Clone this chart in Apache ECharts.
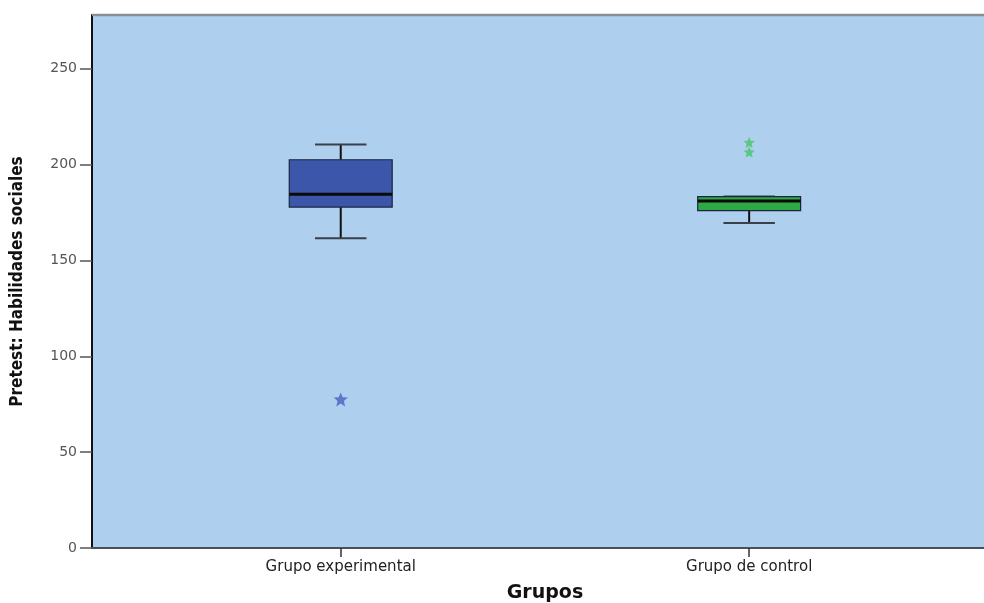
<!DOCTYPE html>
<html>
<head>
<meta charset="utf-8">
<script src="https://cdn.jsdelivr.net/npm/echarts@6/dist/echarts.min.js"></script>
<style>
  html, body { margin: 0; padding: 0; background: #ffffff; }
  #chart { width: 984px; height: 603px; }
</style>
</head>
<body>
<div id="chart"></div>
<script>
// ---- data ----
const categories = ['Grupo experimental', 'Grupo de control'];
const categoryPositions = [1, 2];
const whiskerLow = [161.5, 169.5];
const quartile1 = [177.8, 176.0];
const medians = [184.5, 181.0];
const quartile3 = [202.5, 183.3];
const whiskerHigh = [210.5, 183.3];
const outliersExperimental = [77.5];
const outliersControl = [211.5, 206.5];
const yTicks = [0, 50, 100, 150, 200, 250];

const boxColors = ['#3c56a9', '#2ea844'];
const starColors = ['#4a60c0', '#46c466'];

const boxData = categories.map((c, i) => [
  categoryPositions[i], whiskerLow[i], quartile1[i], medians[i], quartile3[i], whiskerHigh[i], i
]);
const starPath = 'path://M50,0 L64,32 L98,35 L72,58 L80,95 L50,76 L20,95 L28,58 L2,35 L36,32 Z';

const chart = echarts.init(document.getElementById('chart'), null, { renderer: 'canvas' });

chart.setOption({
  animation: false,
  backgroundColor: '#ffffff',
  grid: {
    left: 92, top: 15, right: 0, bottom: 55,
    containLabel: false, outerBoundsMode: 'none',
    show: true, backgroundColor: '#aecfee', borderWidth: 0
  },
  graphic: [
    { type: 'line', shape: { x1: 92, y1: 15, x2: 984, y2: 15 }, style: { stroke: '#8a8f96', lineWidth: 2.5 }, z: 10 }
  ],
  xAxis: {
    type: 'value',
    min: 0.391,
    max: 2.575,
    name: 'Grupos',
    nameLocation: 'middle',
    nameGap: 36,
    nameTextStyle: { fontFamily: 'DejaVu Sans', fontWeight: 'bold', fontSize: 19, color: '#111', padding: [0, 0, 0, 14] },
    splitLine: { show: false },
    axisLine: { show: true, onZero: false, lineStyle: { color: '#4a5058', width: 2 } },
    axisTick: { show: true, customValues: categoryPositions, length: 9, lineStyle: { color: '#333', width: 1.5 } },
    axisLabel: {
      customValues: categoryPositions,
      formatter: v => categories[Math.round(v) - 1] || '',
      fontFamily: 'DejaVu Sans', fontSize: 15, color: '#222', margin: 12
    }
  },
  yAxis: {
    type: 'value',
    min: 0,
    max: 278,
    name: 'Pretest: Habilidades sociales',
    nameLocation: 'middle',
    nameGap: 66,
    nameRotate: 90,
    nameTextStyle: { fontFamily: 'DejaVu Sans Condensed, DejaVu Sans', fontWeight: 'bold', fontSize: 17, color: '#111' },
    splitLine: { show: false },
    axisLine: { show: true, lineStyle: { color: '#111', width: 2 } },
    axisTick: { show: true, customValues: yTicks, length: 12, lineStyle: { color: '#555', width: 1.5 } },
    axisLabel: { customValues: yTicks, fontFamily: 'DejaVu Sans', fontSize: 14, color: '#555555', margin: 15 }
  },
  series: [
    {
      type: 'custom',
      data: boxData,
      encode: { x: 0, y: [1, 2, 3, 4, 5] },
      z: 5,
      renderItem: function (params, api) {
        const x = api.value(0);
        const unit = api.size([1, 0])[0];
        const half = unit * 0.126;
        const capHalf = unit * 0.063;
        const pLow = api.coord([x, api.value(1)]);
        const pQ1 = api.coord([x, api.value(2)]);
        const pMed = api.coord([x, api.value(3)]);
        const pQ3 = api.coord([x, api.value(4)]);
        const pHigh = api.coord([x, api.value(5)]);
        const cx = pMed[0];
        const color = boxColors[api.value(6)];
        return {
          type: 'group',
          children: [
            { type: 'line', shape: { x1: cx, y1: pQ3[1], x2: cx, y2: pHigh[1] }, style: { stroke: '#111', lineWidth: 2 } },
            { type: 'line', shape: { x1: cx, y1: pQ1[1], x2: cx, y2: pLow[1] }, style: { stroke: '#111', lineWidth: 2 } },
            { type: 'line', shape: { x1: cx - capHalf, y1: pHigh[1], x2: cx + capHalf, y2: pHigh[1] }, style: { stroke: '#3a3f48', lineWidth: 2 } },
            { type: 'line', shape: { x1: cx - capHalf, y1: pLow[1], x2: cx + capHalf, y2: pLow[1] }, style: { stroke: '#3a3f48', lineWidth: 2 } },
            { type: 'rect', shape: { x: cx - half, y: pQ3[1], width: half * 2, height: pQ1[1] - pQ3[1] }, style: { fill: color, stroke: '#1a2540', lineWidth: 1.2 } },
            { type: 'line', shape: { x1: cx - half, y1: pMed[1], x2: cx + half, y2: pMed[1] }, style: { stroke: '#0a0a0a', lineWidth: 3 } }
          ]
        };
      }
    },
    {
      type: 'scatter',
      symbol: starPath,
      symbolSize: 14,
      itemStyle: { color: starColors[0] },
      data: outliersExperimental.map(v => [categoryPositions[0], v]),
      z: 6
    },
    {
      type: 'scatter',
      symbol: starPath,
      symbolSize: 11,
      itemStyle: { color: starColors[1] },
      data: outliersControl.map(v => [categoryPositions[1], v]),
      z: 6
    }
  ]
});
</script>
</body>
</html>
